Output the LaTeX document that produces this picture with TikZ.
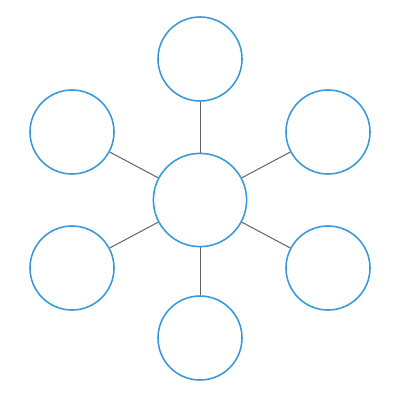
\documentclass[tikz,border=0pt]{standalone}
\usepackage{tikz}
\definecolor{bubbleblue}{HTML}{3498DB}
\definecolor{spokegray}{HTML}{606060}
\begin{document}
\begin{tikzpicture}
          [x = 0.025cm, y = -0.025cm,
           bubble/.style = {circle, draw = bubbleblue, line width = 1.1pt, minimum size = 2.1cm, inner sep = 0pt},
           hub/.style = {bubble, minimum size = 2.33cm},
           spoke/.style = {draw = spokegray, line width = 0.7pt}]
          \useasboundingbox (0,0) rectangle (400,400);
          \node[hub] (hub) at (200,200) {};
          \node[bubble] (top) at (200,59) {};
          \node[bubble] (upleft) at (72,132) {};
          \node[bubble] (upright) at (328,132) {};
          \node[bubble] (lowleft) at (72,268) {};
          \node[bubble] (lowright) at (328,268) {};
          \node[bubble] (bottom) at (200,338) {};
          \draw[spoke] (hub) -- (top);
          \draw[spoke] (hub) -- (upleft);
          \draw[spoke] (hub) -- (upright);
          \draw[spoke] (hub) -- (lowleft);
          \draw[spoke] (hub) -- (lowright);
          \draw[spoke] (hub) -- (bottom);
        \end{tikzpicture}
\end{document}
